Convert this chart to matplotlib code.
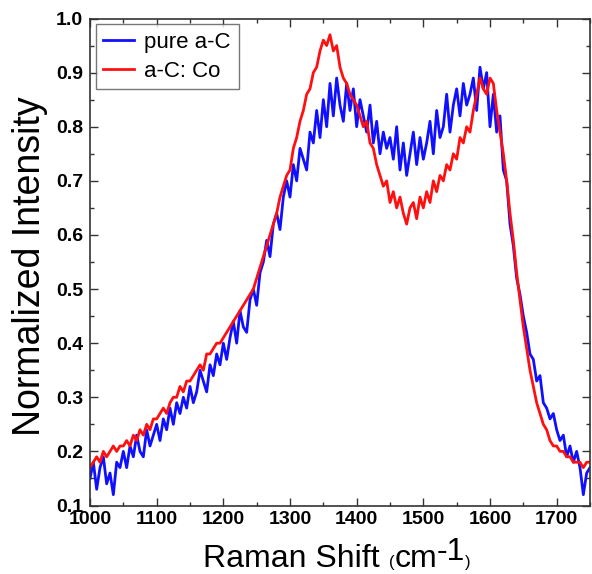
import numpy as np
import matplotlib
matplotlib.use("Agg")
import matplotlib.pyplot as plt
from matplotlib.ticker import MultipleLocator

plt.rcParams['font.family'] = ['Liberation Sans', 'DejaVu Sans']

raman_shift = np.arange(1000, 1755, 5)

pure_aC = [
    0.15, 0.18, 0.13, 0.17, 0.19, 0.14, 0.16, 0.12, 0.18, 0.17,
    0.20, 0.17, 0.21, 0.19, 0.23, 0.20, 0.19, 0.24, 0.21, 0.23,
    0.25, 0.22, 0.26, 0.24, 0.28, 0.25, 0.29, 0.27, 0.30, 0.28,
    0.32, 0.29, 0.31, 0.35, 0.33, 0.31, 0.36, 0.34, 0.38, 0.36,
    0.40, 0.37, 0.41, 0.44, 0.40, 0.46, 0.43, 0.42, 0.48, 0.50,
    0.47, 0.53, 0.55, 0.59, 0.56, 0.62, 0.64, 0.61, 0.67, 0.70,
    0.67, 0.73, 0.70, 0.76, 0.74, 0.72, 0.79, 0.77, 0.83, 0.78,
    0.85, 0.80, 0.88, 0.82, 0.89, 0.84, 0.81, 0.88, 0.83, 0.87,
    0.80, 0.85, 0.82, 0.79, 0.84, 0.77, 0.81, 0.75, 0.79, 0.76,
    0.78, 0.74, 0.80, 0.72, 0.77, 0.71, 0.75, 0.79, 0.73, 0.78,
    0.74, 0.77, 0.81, 0.75, 0.83, 0.78, 0.80, 0.86, 0.79, 0.84,
    0.87, 0.82, 0.88, 0.84, 0.86, 0.89, 0.83, 0.91, 0.87, 0.90,
    0.80, 0.86, 0.79, 0.82, 0.72, 0.70, 0.62, 0.58, 0.52, 0.49,
    0.45, 0.42, 0.38, 0.37, 0.33, 0.34, 0.29, 0.28, 0.26, 0.27,
    0.24, 0.22, 0.23, 0.19, 0.21, 0.18, 0.20, 0.17, 0.12, 0.16,
    0.17,
]

aC_Co = [
    0.17, 0.18, 0.19, 0.18, 0.20, 0.19, 0.20, 0.21, 0.20, 0.21,
    0.21, 0.22, 0.21, 0.23, 0.22, 0.24, 0.23, 0.25, 0.24, 0.26,
    0.26, 0.27, 0.28, 0.27, 0.29, 0.30, 0.30, 0.32, 0.31, 0.33,
    0.33, 0.34, 0.35, 0.36, 0.35, 0.38, 0.38, 0.39, 0.40, 0.40,
    0.41, 0.42, 0.43, 0.44, 0.45, 0.46, 0.47, 0.48, 0.49, 0.50,
    0.52, 0.54, 0.56, 0.58, 0.60, 0.62, 0.64, 0.67, 0.69, 0.71,
    0.72, 0.76, 0.78, 0.81, 0.83, 0.86, 0.87, 0.90, 0.91, 0.94,
    0.96, 0.95, 0.97, 0.94, 0.95, 0.91, 0.89, 0.88, 0.86, 0.85,
    0.84, 0.82, 0.80, 0.81, 0.77, 0.76, 0.73, 0.71, 0.69, 0.70,
    0.66, 0.68, 0.65, 0.67, 0.64, 0.62, 0.65, 0.66, 0.63, 0.67,
    0.65, 0.68, 0.66, 0.70, 0.68, 0.71, 0.70, 0.73, 0.72, 0.75,
    0.74, 0.78, 0.77, 0.80, 0.79, 0.83, 0.86, 0.89, 0.87, 0.86,
    0.89, 0.88, 0.83, 0.79, 0.75, 0.70, 0.64, 0.59, 0.53, 0.48,
    0.43, 0.39, 0.35, 0.32, 0.29, 0.27, 0.25, 0.24, 0.22, 0.21,
    0.21, 0.20, 0.20, 0.19, 0.19, 0.18, 0.18, 0.18, 0.17, 0.18,
    0.18,
]

series_labels = ["pure a-C", "a-C: Co"]
series_colors = ["#1010ff", "#ff1010"]

fig = plt.figure(figsize=(5.92, 5.74), dpi=100)
ax = fig.add_axes([90 / 592, 1 - 505.5 / 574, 500 / 592, 487 / 574])

ax.plot(raman_shift, pure_aC, color=series_colors[0], lw=2.0, label=series_labels[0])
ax.plot(raman_shift, aC_Co, color=series_colors[1], lw=2.0, label=series_labels[1])

ax.set_xlim(1000, 1750)
ax.set_ylim(0.1, 1.0)
ax.xaxis.set_major_locator(MultipleLocator(100))
ax.xaxis.set_minor_locator(MultipleLocator(50))
ax.yaxis.set_major_locator(MultipleLocator(0.1))
ax.yaxis.set_minor_locator(MultipleLocator(0.05))
ax.tick_params(which='both', direction='in', top=True, right=True, color='#333333')
ax.tick_params(which='major', length=6, width=1.0, labelsize=14)
ax.tick_params(axis='x', which='major', pad=4)
ax.tick_params(axis='y', which='major', pad=5)
ax.tick_params(which='minor', length=3, width=1.0)
ax.yaxis.set_major_formatter(plt.FuncFormatter(lambda v, p: f"{v:.1f}"))
for lab in ax.get_xticklabels() + ax.get_yticklabels():
    lab.set_fontweight('bold')
for s in ax.spines.values():
    s.set_color('#333333')
    s.set_linewidth(1.2)

ax.set_ylabel("Normalized Intensity", fontsize=27)
ax.yaxis.set_label_coords(-0.084, 0.492)

leg = ax.legend(loc='upper left', fontsize=16, frameon=True, fancybox=False,
                edgecolor='#555555', handlelength=1.4, handletextpad=0.45,
                borderpad=0.35, labelspacing=0.35, borderaxespad=0.25)
leg.get_frame().set_linewidth(1.0)

# x-axis label made of pieces of different sizes, laid out on one baseline
renderer = fig.canvas.get_renderer()
base_y = 1 - 567 / 574
xpos = 203 / 592
pieces = [("Raman Shift ", 23, 0), ("(", 12, 0), ("cm", 23, 0), ("-1", 23, 7), (")", 12, 0)]
for txt, size, rise in pieces:
    t = fig.text(xpos, base_y + rise / 574, txt, fontsize=size, va='baseline', ha='left')
    bb = t.get_window_extent(renderer)
    xpos = bb.x1 / fig.bbox.width

fig.savefig("out.png", dpi=100)
